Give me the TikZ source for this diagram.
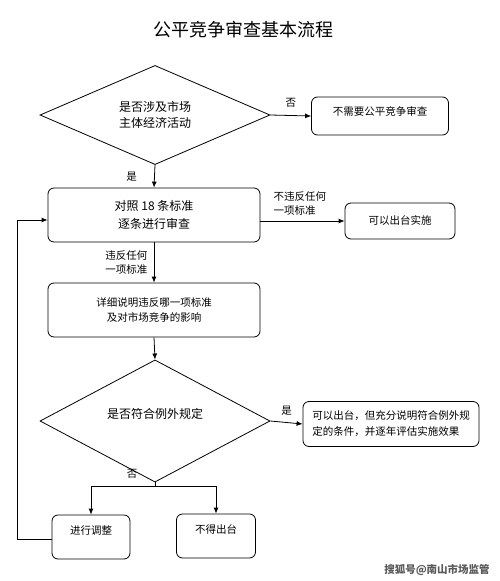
\documentclass[tikz,border=0pt]{standalone}
\usepackage{fontspec}
\setmainfont{Noto Sans CJK SC}
\usetikzlibrary{shapes.geometric,arrows.meta}

\begin{document}
\begin{tikzpicture}[x=1pt, y=-1pt, line width=0.8pt, >={Latex[length=6pt,width=5pt]},
    box/.style={draw, rounded corners=6pt, inner sep=0pt, align=center},
    dia/.style={draw, diamond, inner sep=0pt, align=center, minimum width=230pt},
    big/.style={font=\fontsize{12}{18}\selectfont},
    small/.style={font=\fontsize{10.5}{15}\selectfont},
    tag/.style={font=\fontsize{10.5}{14}\selectfont, align=left}]
  \useasboundingbox (0,0) rectangle (500,581);

  \node[font=\fontsize{18}{20}\selectfont] (title) at (243,30) {公平竞争审查基本流程};

  % first check
  \node[dia, big, minimum height=80pt, font=\fontsize{12}{16}\selectfont] (q1) at (155,115) {是否涉及市场\\主体经济活动};
  \node[box, small, minimum width=137pt, minimum height=38pt, text depth=10pt] (nofair) at (380,116) {不需要公平竞争审查};

  % review
  \node[box, big, minimum width=212pt, minimum height=54pt] (check) at (154,215) {对照 18 条标准\\逐条进行审查};
  \node[box, small, minimum width=110pt, minimum height=36pt] (ok) at (400,221) {可以出台实施};
  \node[box, small, minimum width=212pt, minimum height=54pt] (detail) at (154,310) {详细说明违反哪一项标准\\及对市场竞争的影响};

  % exception
  \node[dia, big, minimum height=83pt, text depth=16pt] (q2) at (155,421) {是否符合例外规定};
  \node[box, small, align=left, minimum width=176pt, minimum height=45pt, font=\fontsize{10.5}{16}\selectfont] (except) at (391,424) {可以出台，但充分说明符合例外规\\定的条件，并逐年评估实施效果};
  \node[box, small, minimum width=78pt, minimum height=44pt, text depth=14pt] (adjust) at (91,537) {进行调整};
  \node[box, small, minimum width=79pt, minimum height=44pt, text depth=14pt] (ban) at (216,536) {不得出台};
  \node[tag] (no2) at (132,474) {否};

  \coordinate (split) at (155,486);
  \coordinate (back) at (17,539);

  \draw[->] (q1.east) -- (nofair.west) node[midway, above=4pt, tag] {否};
  \draw[->] (q1.south) -- (check.north) node[midway, left=14pt, tag] {是};
  \draw[->] (ok.west -| check.east) -- (ok.west) node[pos=.47, above=2pt, tag] {不违反任何\\一项标准};
  \draw[->] (check.south) -- (detail.north) node[midway, left=3pt, tag] {违反任何\\一项标准};
  \draw[->] (detail.south) -- (q2.north);
  \draw[->] (q2.east) -- (except.west) node[midway, above=3pt, tag] {是};
  \draw (q2.south) -- (split);
  \draw[->] (split) -| (adjust);
  \draw[->] (split) -| (ban);
  \draw[->] (adjust.west |- back) -- (back) |- ([yshift=-5pt]check.west);

  \node[text=gray!70!black, font=\fontsize{10.5}{12}\selectfont\bfseries] (mark) at (437,570) {搜狐号@南山市场监管};
\end{tikzpicture}
\end{document}
